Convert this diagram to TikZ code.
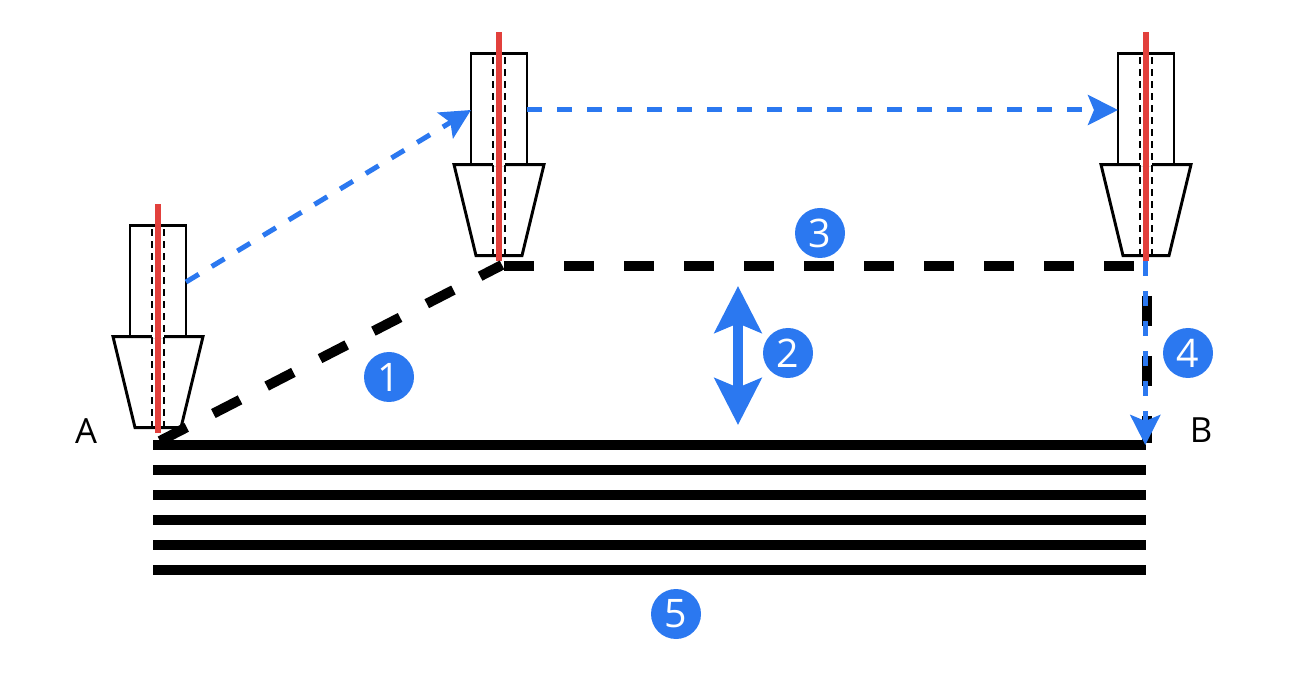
\documentclass[tikz,border=0pt]{standalone}
\usepackage{fontspec}
\usepackage{xcolor}
\setmainfont{Open Sans}
\usetikzlibrary{positioning}
\usetikzlibrary{arrows.meta}
\definecolor{badgeblue}{HTML}{2B78F0}
\definecolor{needlered}{HTML}{E2403C}
\tikzset{
 toolline/.style={line width=2.2pt},
 pathdash/.style={line width=7.5pt,dash pattern=on 22.5pt off 22.5pt},
 travel/.style={badgeblue,line width=3.75pt,dash pattern=on 11.25pt off 11.25pt,-{Stealth[length=22.5pt,width=22.5pt,inset=4.5pt]}},
 layer/.style={line width=7.5pt},
 badge/.style={circle,fill=badgeblue,text=white,minimum size=37.5pt,inner sep=0pt,font=\fontsize{29.5}{30}\selectfont},
 sidelabel/.style={font=\fontsize{26}{30}\selectfont},
 pics/spindle/.style={code={
  \draw[toolline] (-28,-91) rectangle (28,-202);
  \draw[toolline,fill=white] (-45,-91) -- (45,-91) -- (23,0) -- (-23,0) -- cycle;
  \draw[white,line width=2.6pt] (-6,-91) -- (6,-91);
  \draw[line width=2pt,dash pattern=on 5pt off 4pt] (-6,0) -- (-6,-202);
  \draw[line width=2pt,dash pattern=on 5pt off 4pt] (6,0) -- (6,-202);
  \draw[needlered,line width=4.2pt] (0,5) -- (0,-224);
 }}
}
\begin{document}
\begin{tikzpicture}[x=0.75pt,y=0.75pt]
 \useasboundingbox (0,0) rectangle (1307,-691);
 \begin{scope}[y=-0.75pt]
 % tools
 \pic at (158,427.6) {spindle};
 \pic at (499,255.6) {spindle};
 \pic at (1146,255.6) {spindle};

 \coordinate (start) at (160,441);
 \coordinate (corner) at (502,265);
 \coordinate (flat) at (504,266);
 \coordinate (end) at (1147,266);
 \coordinate (drop) at (1147,296);
 \coordinate (stop) at (1147,443);
 \coordinate (leftout) at (186,282);
 \coordinate (midin) at (471,110);
 \coordinate (midout) at (527,110);
 \coordinate (rightin) at (1118,110);
 \coordinate (rightdown) at (1145.3,261);
 \coordinate (rightbase) at (1145.3,445);
 \coordinate (gaptop) at (738,286);
 \coordinate (gapbottom) at (738,425);

 % layers
 \foreach \y in {444.8,469.8,494.8,519.6,544.6,569.6}
  \draw[layer] (153,\y) -- (1146,\y);

 % nozzle path
 \draw[pathdash] (start) -- (corner);
 \draw[pathdash] (flat) -- (end);
 \draw[pathdash] (drop) -- (stop);

 % moves
 \draw[travel] (leftout) -- (midin);
 \draw[travel] (midout) -- (rightin);
 \draw[travel] (rightdown) -- (rightbase);
 \draw[badgeblue,line width=7.5pt,{Stealth[length=35pt,width=35pt,inset=7pt]}-{Stealth[length=35pt,width=35pt,inset=7pt]}] (gaptop) -- (gapbottom);

 \node[badge] (one) at (389,377) {1};
 \node[badge] (two) at (788,353) {2};
 \node[badge] (three) at (820,233) {3};
 \node[badge] (four) at (1188,353) {4};
 \node[badge] (five) at (676,614) {5};

 \node[sidelabel] (a) at (86,431) {A};
 \node[sidelabel] (b) at (1201,430) {B};
 \end{scope}
\end{tikzpicture}
\end{document}
